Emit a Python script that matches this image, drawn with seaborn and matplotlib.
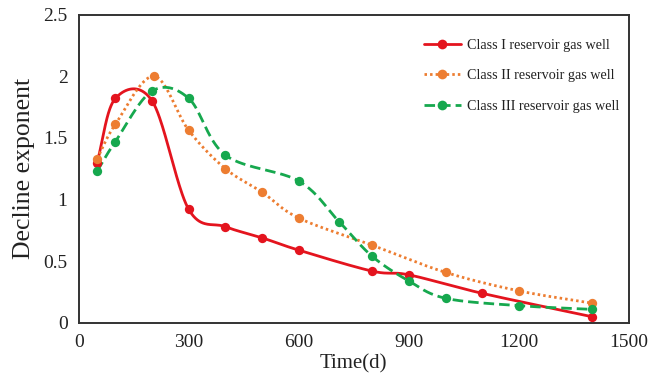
import numpy as np
import pandas as pd
import matplotlib
matplotlib.use("Agg")
import matplotlib.pyplot as plt
from matplotlib.lines import Line2D
import seaborn as sns

# ---- data ----
t_class1 = [50, 100, 200, 300, 400, 500, 600, 800, 900, 1100, 1400]
b_class1 = [1.30, 1.82, 1.80, 0.92, 0.78, 0.69, 0.59, 0.42, 0.39, 0.24, 0.05]

t_class2 = [50, 100, 205, 300, 400, 500, 600, 800, 1000, 1200, 1400]
b_class2 = [1.33, 1.61, 2.00, 1.56, 1.25, 1.06, 0.85, 0.63, 0.41, 0.26, 0.16]

t_class3 = [50, 100, 200, 300, 400, 600, 710, 800, 900, 1000, 1200, 1400]
b_class3 = [1.23, 1.47, 1.88, 1.82, 1.36, 1.15, 0.82, 0.54, 0.34, 0.20, 0.14, 0.11]

labels = ["Class I reservoir gas well", "Class II reservoir gas well",
          "Class III reservoir gas well"]
colors = ["#E4141E", "#ED7D31", "#16A84E"]
x_ticks = [0, 300, 600, 900, 1200, 1500]
y_ticks = [0, 0.5, 1, 1.5, 2, 2.5]


def smooth(xs, ys, n=40):
    """Parametric Catmull-Rom smoothing (like a spreadsheet 'smoothed line')."""
    P = np.column_stack([xs, ys]).astype(float)
    sx, sy = 1500.0, 2.5
    P[:, 0] /= sx
    P[:, 1] /= sy
    ext = np.vstack([2 * P[0] - P[1], P, 2 * P[-1] - P[-2]])
    out = []
    s = np.linspace(0, 1, n)
    h00 = 2 * s**3 - 3 * s**2 + 1
    h10 = s**3 - 2 * s**2 + s
    h01 = -2 * s**3 + 3 * s**2
    h11 = s**3 - s**2
    for i in range(1, len(ext) - 2):
        p0, p1, p2, p3 = ext[i - 1], ext[i], ext[i + 1], ext[i + 2]
        m1 = (p2 - p0) / 2
        m2 = (p3 - p1) / 2
        seg = (h00[:, None] * p1 + h10[:, None] * m1 +
               h01[:, None] * p2 + h11[:, None] * m2)
        out.append(seg if i == 1 else seg[1:])
    C = np.vstack(out)
    return C[:, 0] * sx, C[:, 1] * sy


sns.set_theme(style="white")
plt.rcParams["font.family"] = ["Liberation Serif", "DejaVu Serif"]
plt.rcParams["axes.unicode_minus"] = False

fig = plt.figure(figsize=(6.52, 3.84), dpi=100)
ax = fig.add_axes([0.1207, 0.159, 0.8440, 0.8032])

series = [(t_class1, b_class1), (t_class2, b_class2), (t_class3, b_class3)]
styles = ["-", (0, (0.9, 1.1)), (0, (3.8, 1.8))]
caps = ["round", "butt", "butt"]
lw = 2.0

handles = []
for (tx, by), lab, col, ls, cs in zip(series, labels, colors, styles, caps):
    xs, ys = smooth(tx, by)
    sns.lineplot(x=xs, y=ys, sort=False, estimator=None, color=col,
                 linewidth=lw, linestyle=ls, ax=ax, legend=False)
    ax.lines[-1].set_dash_capstyle(cs)
    ax.lines[-1].set_solid_capstyle("round")
    sns.scatterplot(x=tx, y=by, color=col, s=45, edgecolor=col,
                    linewidth=0, ax=ax, legend=False, zorder=3)
    handles.append(Line2D([0], [0], color=col, linewidth=lw, linestyle=ls,
                          marker="o", markersize=7, markeredgewidth=0,
                          dash_capstyle=cs))

ax.set_xlim(0, 1500)
ax.set_ylim(0, 2.5)
ax.set_xticks(x_ticks)
ax.set_xticklabels([str(v) for v in x_ticks])
ax.set_yticks(y_ticks)
ax.set_yticklabels(["0", "0.5", "1", "1.5", "2", "2.5"])

text_col = "#222222"
for sp in ax.spines.values():
    sp.set_visible(True)
    sp.set_color("#333333")
    sp.set_linewidth(1.4)

ax.tick_params(axis="both", direction="in", length=5, width=1.0,
               color="#333333", labelsize=14, labelcolor=text_col, pad=8)
ax.tick_params(axis="y", pad=8)

ax.set_xlabel("Time(d)", fontsize=15, color=text_col, labelpad=2)
ax.set_ylabel("Decline exponent", fontsize=18.5, color=text_col, labelpad=6)

leg = ax.legend(handles, labels, loc="upper left",
                bbox_to_anchor=(0.617, 0.94), frameon=False,
                fontsize=10.2, handlelength=2.6, handletextpad=0.45,
                labelspacing=1.25, borderaxespad=0)
for t in leg.get_texts():
    t.set_color(text_col)

fig.savefig("out.png", dpi=100, facecolor="white")
